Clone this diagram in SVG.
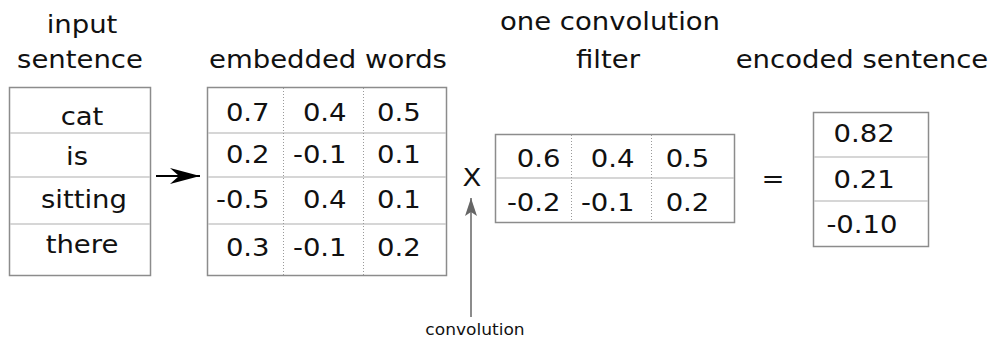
<svg xmlns="http://www.w3.org/2000/svg" width="993" height="340" viewBox="0 0 993 340">
  <style>
    .frame { fill: #ffffff; stroke: #8c8c8c; stroke-width: 1.5; }
    .row { stroke: #c8c8c8; stroke-width: 1.5; fill: none; }
    .col { stroke: #9a9a9a; stroke-width: 1; stroke-dasharray: 1 2; fill: none; }
    text { font-family: "DejaVu Sans", Verdana, sans-serif; fill: #111111; }
    .t { font-size: 25px; }
    .m { text-anchor: middle; }
    .e { text-anchor: end; }
    .small { font-size: 15.5px; }
  </style>
  <defs>
    <marker id="swept" viewBox="0 0 30 16" refX="30" refY="8" markerWidth="30" markerHeight="16" markerUnits="userSpaceOnUse" orient="auto">
      <path d="M0,0 L30,8 L0,16 L9,8 Z" fill="#000000"/>
    </marker>
    <marker id="tipGray" viewBox="0 0 18 12" refX="18" refY="6" markerWidth="18" markerHeight="12" markerUnits="userSpaceOnUse" orient="auto">
      <path d="M18,6 L0,0 L4,6 L0,12 Z" fill="#666666"/>
    </marker>
  </defs>
  <rect width="993" height="340" fill="#ffffff"/>

  <!-- frames and grid lines -->
  <g id="input-sentence">
    <rect class="frame" x="9.5" y="87.5" width="141" height="188"/>
    <line class="row" x1="10" y1="133" x2="150" y2="133"/>
    <line class="row" x1="10" y1="177" x2="150" y2="177"/>
    <line class="row" x1="10" y1="224" x2="150" y2="224"/>
  </g>
  <g id="embedded-words">
    <rect class="frame" x="207.5" y="87.5" width="239" height="188"/>
    <line class="row" x1="208" y1="133" x2="446" y2="133"/>
    <line class="row" x1="208" y1="177" x2="446" y2="177"/>
    <line class="row" x1="208" y1="224" x2="446" y2="224"/>
    <line class="col" x1="283.5" y1="88" x2="283.5" y2="275"/>
    <line class="col" x1="363.5" y1="88" x2="363.5" y2="275"/>
  </g>
  <g id="filter">
    <rect class="frame" x="495.5" y="134.5" width="239" height="88"/>
    <line class="row" x1="496" y1="178" x2="734" y2="178"/>
    <line class="col" x1="571.5" y1="135" x2="571.5" y2="222"/>
    <line class="col" x1="651.5" y1="135" x2="651.5" y2="222"/>
  </g>
  <g id="encoded-sentence">
    <rect class="frame" x="813.5" y="112.5" width="115" height="134"/>
    <line class="row" x1="814" y1="157" x2="928" y2="157"/>
    <line class="row" x1="814" y1="201" x2="928" y2="201"/>
  </g>

  <!-- connectors -->
  <g id="connectors">
    <line x1="156" y1="176" x2="200" y2="176" stroke="#000000" stroke-width="2" marker-end="url(#swept)"/>
    <line x1="471" y1="317" x2="471" y2="198" stroke="#666666" stroke-width="1.5" marker-end="url(#tipGray)"/>
  </g>

  <!-- all text is set slightly wide -->
  <g transform="scale(1.1 1)">
    <g id="titles" class="t">
      <text class="m" x="74.55" y="33">input</text>
      <text class="m" x="72.73" y="68">sentence</text>
      <text class="m" x="298.18" y="68">embedded words</text>
      <text class="m" x="554.55" y="30">one convolution</text>
      <text class="m" x="552.73" y="68">filter</text>
      <text class="m" x="783.64" y="68">encoded sentence</text>
    </g>
    <g id="words" class="t">
      <text class="m" x="74.55" y="125">cat</text>
      <text class="m" x="70" y="165">is</text>
      <text class="m" x="76.36" y="208">sitting</text>
      <text class="m" x="74.55" y="253">there</text>
    </g>
    <g id="embedding-values" class="t">
      <text class="e" x="245.1" y="121">0.7</text>
      <text class="e" x="315.1" y="121">0.4</text>
      <text class="m" x="362.7" y="121">0.5</text>
      <text class="e" x="245.1" y="163">0.2</text>
      <text class="e" x="315.1" y="163">-0.1</text>
      <text class="m" x="362.7" y="163">0.1</text>
      <text class="e" x="245.1" y="208">-0.5</text>
      <text class="e" x="315.1" y="208">0.4</text>
      <text class="m" x="362.7" y="208">0.1</text>
      <text class="e" x="245.1" y="256">0.3</text>
      <text class="e" x="315.1" y="256">-0.1</text>
      <text class="m" x="362.7" y="256">0.2</text>
    </g>
    <g id="operators" class="t">
      <text class="m" x="429.1" y="186">X</text>
      <text class="m" x="702.7" y="187">=</text>
    </g>
    <g id="filter-values" class="t">
      <text class="e" x="509.6" y="167">0.6</text>
      <text class="e" x="576.9" y="167">0.4</text>
      <text class="m" x="625" y="167">0.5</text>
      <text class="e" x="509.6" y="211">-0.2</text>
      <text class="e" x="576.9" y="211">-0.1</text>
      <text class="m" x="625" y="211">0.2</text>
    </g>
    <g id="encoded-values" class="t">
      <text class="m" x="785.5" y="142">0.82</text>
      <text class="m" x="785.5" y="188">0.21</text>
      <text class="m" x="783.6" y="233">-0.10</text>
    </g>
    <g id="convolution-label">
      <text class="m small" x="431.8" y="335">convolution</text>
    </g>
  </g>
</svg>
